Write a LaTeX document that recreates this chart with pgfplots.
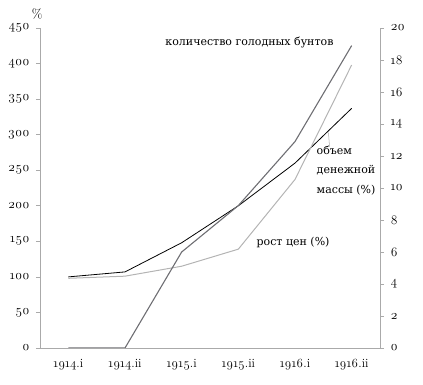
\documentclass[border=0pt]{standalone}
\usepackage{pgfplots}
\pgfplotsset{compat=1.18}
\usepackage{fontspec}
\setmainfont{Latin Modern Roman}[Numbers=OldStyle]
\newfontfamily\cyr{DejaVu Serif}
\definecolor{axgray}{RGB}{170,170,170}
\definecolor{riot}{RGB}{110,110,115}
\definecolor{price}{RGB}{180,180,180}
\begin{document}
\begin{tikzpicture}[x=1pt,y=1pt]
\pgfplotsset{
  every axis/.style={
    scale only axis, width=340pt, height=320pt, at={(0,0)}, anchor=south west,
    xmin=-0.5, xmax=5.5,
    /pgf/number format/assume math mode=true,
    tick label style={font=\fontsize{13}{15}\selectfont},
    axis line style={axgray, line width=0.6pt},
    tick style={axgray, line width=0.6pt},
    tick align=outside,
    major tick length=4pt,
  }
}
\begin{axis}[
  axis x line*=bottom, axis y line*=left,
  ymin=0, ymax=450, ytick={0,50,...,450},
  xtick={0,...,5},
  xticklabels={1914.\textsc{i},1914.\textsc{ii},1915.\textsc{i},1915.\textsc{ii},1916.\textsc{i},1916.\textsc{ii}},
  x tick label style={font=\fontsize{12.5}{14}\selectfont, yshift=-4pt},
  minor xtick={-0.5,0.5,...,5.5},
  xtick style={draw=none},
  minor tick length=4pt,
  minor tick style={axgray, line width=0.6pt},
  yticklabel style={xshift=-3pt},
  clip=false,
]
\addplot[black, line width=0.8pt] coordinates {(0,100) (1,107) (2,148) (3,200) (4,260) (5,337)};
\addplot[price, line width=1pt] coordinates {(0,98) (1,101) (2,115) (3,139) (4,237) (5,398)};
\node[font=\fontsize{13}{15}\selectfont] at (axis cs:-0.55,470) {\%};
\node[font=\cyr\fontsize{11}{13}\selectfont, anchor=west, inner sep=0pt] at (axis cs:1.71,429) {количество голодных бунтов};
\node[font=\cyr\fontsize{11}{19.5}\selectfont, align=left, anchor=north west, inner sep=0pt] at (axis cs:4.38,285) {объем\\денежной\\массы (\%)};
\draw[axgray, line width=0.5pt] (axis cs:4.59,303) -- (axis cs:4.61,283);
\node[font=\cyr\fontsize{11}{13}\selectfont, anchor=west, inner sep=0pt] at (axis cs:3.32,149) {рост цен (\%)};
\end{axis}
\begin{axis}[
  axis x line=none, axis y line*=right,
  ymin=0, ymax=20, ytick={0,2,...,20},
  yticklabel style={xshift=3pt},
]
\addplot[riot, line width=1.1pt] coordinates {(0,0) (1,0) (2,6) (3,8.9) (4,12.9) (5,18.9)};
\end{axis}
\path[use as bounding box] (-40,-37) rectangle (383,348);
\end{tikzpicture}
\end{document}
